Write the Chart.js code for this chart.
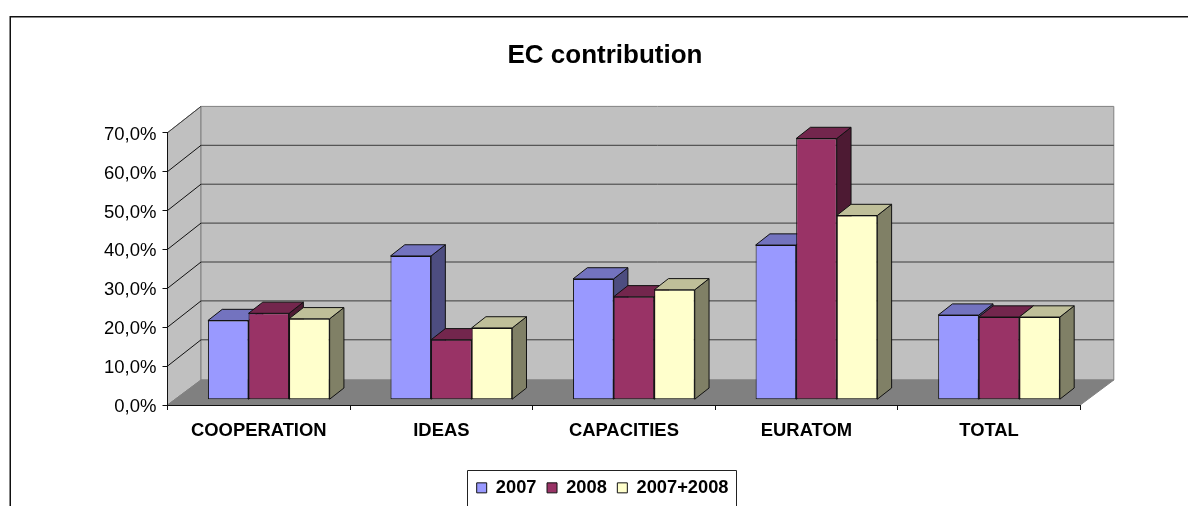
<!DOCTYPE html>
<html><head><meta charset="utf-8">
<style>html,body{margin:0;padding:0;background:#fff;overflow:hidden;width:1188px;height:506px}
#w{position:absolute;left:0;top:0;width:1210px;height:506px}</style>
<script src="https://cdn.jsdelivr.net/npm/chart.js@4/dist/chart.umd.min.js"></script>
</head><body><div id="w"><canvas id="c" width="1210" height="506"></canvas></div>
<script>
const categories = ['COOPERATION','IDEAS','CAPACITIES','EURATOM','TOTAL'];
const series2007 = [20.35,36.95,31.05,39.75,21.75];
const series2008 = [22.2,15.4,26.45,67.15,21.25];
const seriesBoth = [20.8,18.45,28.25,47.35,21.25];
const FONT = '"Liberation Sans", Arial, sans-serif';
const WALL = {dx:33.5, dy:-26.3, floorDy:-25};
const BARPLANE = {dx:10, dy:-5.3};
const BARDEPTH = {dx:14.3, dy:-11.2};
const LEGEND_SHIFT = -2.4;
const faces = [
 {front:'#9999FF',top:'#7373BF',side:'#4D4D80'},
 {front:'#993366',top:'#73264D',side:'#4D1A33'},
 {front:'#FFFFCC',top:'#BFBF99',side:'#808066'}
];
function poly(ctx,pts,fill,stroke,lw){
  ctx.beginPath();pts.forEach((p,i)=>i?ctx.lineTo(p[0],p[1]):ctx.moveTo(p[0],p[1]));ctx.closePath();
  if(fill){ctx.fillStyle=fill;ctx.fill();}
  if(stroke){ctx.strokeStyle=stroke;ctx.lineWidth=lw||1;ctx.stroke();}
}
const scene = {
 id:'scene',
 afterLayout(chart){ chart.legend.left+=LEGEND_SHIFT; chart.legend.right+=LEGEND_SHIFT; },
 beforeDraw(chart){
  const {ctx,chartArea:a,scales:{y}}=chart, d=WALL, fb=a.bottom+d.floorDy;
  ctx.save();
  ctx.strokeStyle='#111';ctx.lineWidth=1.5;
  ctx.beginPath();ctx.moveTo(10.25,506);ctx.lineTo(10.25,16.75);ctx.lineTo(1210,16.75);ctx.stroke();
  poly(ctx,[[a.left,a.bottom],[a.left,a.top],[a.left+d.dx,a.top+d.dy],[a.left+d.dx,fb]],'#C0C0C0','#808080');
  poly(ctx,[[a.left+d.dx,a.top+d.dy],[a.right+d.dx,a.top+d.dy],[a.right+d.dx,fb],[a.left+d.dx,fb]],'#C0C0C0','#808080');
  poly(ctx,[[a.left,a.bottom],[a.left+d.dx,fb],[a.right+d.dx,fb],[a.right,a.bottom]],'#808080','#808080');
  ctx.lineWidth=1;
  y.ticks.forEach(t=>{
    if(t.value===0||t.value===y.max) return;
    const py=y.getPixelForValue(t.value);
    ctx.strokeStyle='#3a3a3a';
    ctx.beginPath();ctx.moveTo(a.left+d.dx,py+d.dy);ctx.lineTo(a.right+d.dx,py+d.dy);ctx.stroke();
    ctx.strokeStyle='#111';
    ctx.beginPath();ctx.moveTo(a.left,py);ctx.lineTo(a.left+d.dx,py+d.dy);ctx.stroke();
  });
  ctx.strokeStyle='#404040';
  ctx.beginPath();ctx.moveTo(a.left,a.top);ctx.lineTo(a.left+d.dx,a.top+d.dy);ctx.stroke();
  ctx.restore();
 },
 beforeDatasetsDraw(chart){
  const {ctx}=chart, b=BARDEPTH;
  ctx.save();
  ctx.translate(BARPLANE.dx,BARPLANE.dy);
  ctx.lineJoin='round';
  // first series first, so that each series' front hides the side of the one before it
  chart.data.datasets.forEach((ds,i)=>{
    const meta=chart.getDatasetMeta(i), f=faces[i];
    meta.data.forEach(el=>{
      const l=el.x-el.width/2, r=el.x+el.width/2, t=el.y, g=el.base;
      poly(ctx,[[r,t],[r+b.dx,t+b.dy],[r+b.dx,g+b.dy],[r,g]],f.side,'#111');
      poly(ctx,[[l,t],[l+b.dx,t+b.dy],[r+b.dx,t+b.dy],[r,t]],f.top,'#111');
    });
    meta.controller.draw();
  });
  ctx.restore();
 },
 beforeDatasetDraw(){ return false; },
 afterDraw(chart){
  const {ctx,legend}=chart, hb=legend.legendHitBoxes, last=hb[hb.length-1];
  ctx.save();
  ctx.strokeStyle='#222';ctx.lineWidth=1;
  const l=Math.round(hb[0].left+LEGEND_SHIFT-7.7)+.5, r=Math.round(last.left+LEGEND_SHIFT+last.width+10.5)-.5, t=470.5;
  ctx.beginPath();ctx.moveTo(l,506);ctx.lineTo(l,t);ctx.lineTo(r,t);ctx.lineTo(r,506);ctx.stroke();
  ctx.restore();
 }
};
const mk=(label,data,i)=>({label,data,backgroundColor:faces[i].front,borderColor:'#111',borderWidth:1,borderSkipped:false,
  categoryPercentage:2/3,barPercentage:1,clip:false});
new Chart(document.getElementById('c'),{
 type:'bar',
 data:{labels:categories,datasets:[mk('2007',series2007,0),mk('2008',series2008,1),mk('2007+2008',seriesBoth,2)]},
 plugins:[scene],
 options:{
  responsive:false,animation:false,
  layout:{padding:{left:0,right:0,top:0,bottom:-1}},
  scales:{
   x:{afterFit(s){s.height=63.2;},
      grid:{drawOnChartArea:false,drawTicks:true,tickLength:5,tickColor:'#111',offset:true},
      border:{display:true,color:'#111',width:1},
      ticks:{color:'#000',padding:9.7,maxRotation:0,autoSkip:false,font:{family:FONT,size:18.4,weight:'bold'}}},
   y:{min:0,max:70,afterFit(s){s.width=167.5;},
      grid:{drawOnChartArea:false,drawTicks:true,tickLength:5,tickColor:'#111'},
      border:{display:true,color:'#111',width:1},
      ticks:{stepSize:10,color:'#000',padding:6,labelOffset:2,font:{family:FONT,size:18.5},
        callback:v=>v.toFixed(1).replace('.',',')+'%'}},
   margin:{type:'linear',axis:'y',position:'right',afterFit(s){s.width=129.7;},
      grid:{display:false},border:{display:false},ticks:{display:false}}
  },
  plugins:{
   tooltip:{enabled:false},
   title:{display:true,text:'EC contribution',color:'#000',padding:{top:40.6,bottom:60.9},
      font:{family:FONT,size:26,weight:'bold',lineHeight:1.2}},
   legend:{position:'bottom',labels:{boxWidth:10,boxHeight:10,padding:10.5,color:'#000',font:{family:FONT,size:18.3,weight:'bold'}}}
  }
 }
});
</script></body></html>
